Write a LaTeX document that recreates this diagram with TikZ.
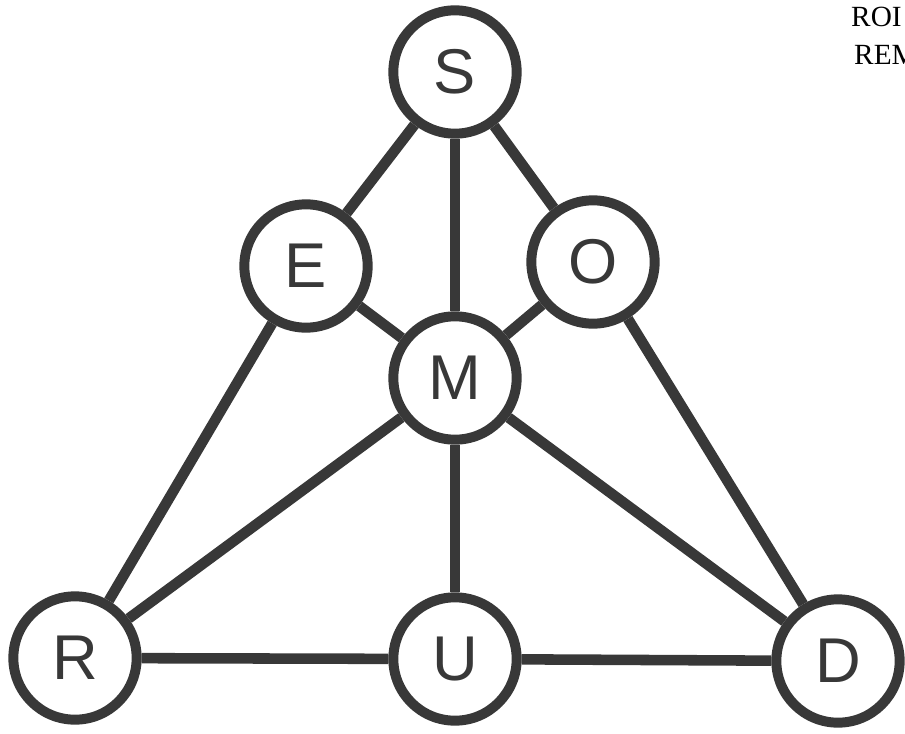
\documentclass[tikz,border=0pt]{standalone}
\usepackage{fontspec}
\setmainfont{Liberation Serif}
\newfontfamily\letterfont{Liberation Sans}
\definecolor{ink}{gray}{0.22}
\begin{document}
\begin{tikzpicture}[x=0.03cm,y=-0.03cm,
  vertex/.style={circle,draw=ink,line width=8.5pt,fill=white,minimum size=3.7cm,inner sep=0pt,
    font=\letterfont\fontsize{54}{60}\selectfont,text=ink},
  link/.style={draw=ink,line width=9pt},
  side/.style={font=\fontsize{25}{28}\selectfont,anchor=base west,inner sep=0pt}]
\useasboundingbox (0,0) rectangle (905,733);
\node[vertex] (S) at (455,72) {S};
\node[vertex] (E) at (306,266) {E};
\node[vertex] (O) at (593,262) {O};
\node[vertex] (M) at (455,378) {M};
\node[vertex] (R) at (75,658) {R};
\node[vertex] (U) at (455,659) {U};
\node[vertex] (D) at (838,661) {D};
\draw[link] (S) -- (E);
\draw[link] (S) -- (M);
\draw[link] (S) -- (O);
\draw[link] (E) -- (M);
\draw[link] (O) -- (M);
\draw[link] (E) -- (R);
\draw[link] (M) -- (R);
\draw[link] (M) -- (U);
\draw[link] (M) -- (D);
\draw[link] (O) -- (D);
\draw[link] (R) -- (U);
\draw[link] (U) -- (D);
\begin{scope}
\clip (0,0) rectangle (905,733);
\node[side] (t1) at (851,27) {ROI};
\node[side] (t2) at (854,65) {REM};
\end{scope}
\end{tikzpicture}
\end{document}
